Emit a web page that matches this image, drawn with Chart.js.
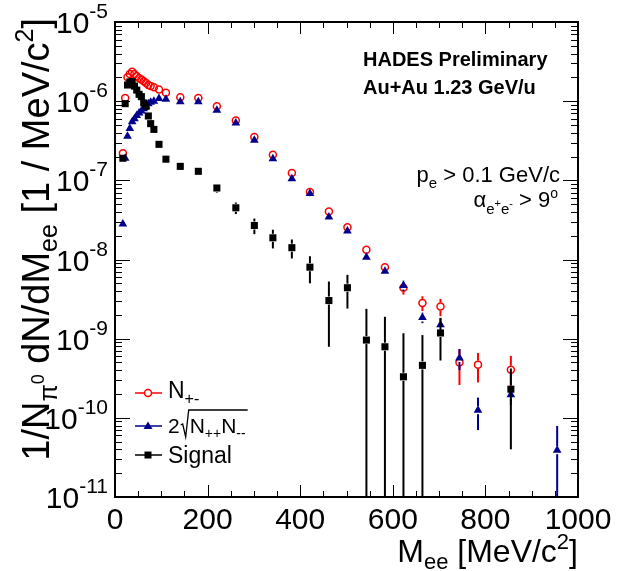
<!DOCTYPE html>
<html>
<head>
<meta charset="utf-8">
<script src="https://cdn.jsdelivr.net/npm/chart.js@4.4.0/dist/chart.umd.min.js"></script>
<style>
  html, body { margin: 0; padding: 0; background: #fff; }
</style>
</head>
<body>
<canvas id="mee-chart" width="625" height="571"></canvas>
<script>
// invariant mass bin centres [MeV/c^2]
const massBins = [17, 22, 27, 32, 37, 42, 47, 52, 57, 62, 67, 72, 77, 84, 95, 110, 141,
  180, 220, 261, 301, 341, 382, 421, 462, 502, 543, 583, 623, 664, 703, 744, 784, 855, 955];

// N+- (unlike-sign pairs)
const nPlusMinus = [2.2e-7, 1.1e-6, 2.0e-6, 2.2e-6, 2.35e-6, 2.2e-6, 2.07e-6, 1.95e-6, 1.88e-6,
  1.78e-6, 1.7e-6, 1.6e-6, 1.55e-6, 1.5e-6, 1.4e-6, 1.28e-6, 1.12e-6,
  1.1e-6, 8.65e-7, 5.7e-7, 3.53e-7, 2.1e-7, 1.24e-7, 7.1e-8, 4.05e-8, 2.56e-8, 1.33e-8,
  8.0e-9, 4.4e-9, 2.83e-9, 2.55e-9, 5.0e-10, 4.7e-10, 4.06e-10, null];
const nPlusMinusErr = [0, 0, 0, 0, 0, 0, 0, 0, 0, 0, 0, 0, 0, 0, 0, 0, 0,
  0, 0, 0, 0, 0, 0, 0, 1.0e-9, 0.8e-9, 0.6e-9, 0.5e-9, 0.8e-9, 0.6e-9, 0.63e-9,
  2.4e-10, 1.9e-10, 2.0e-10, null];

// 2 sqrt(N++ N--) (like-sign background)
const likeSign = [2.8e-8, 1.9e-7, 3.6e-7, 4.5e-7, 5.5e-7, 6.0e-7, 6.6e-7, 7.1e-7, 7.5e-7,
  8.0e-7, 8.6e-7, 9.3e-7, 9.7e-7, 1.0e-6, 1.08e-6, 1.06e-6, 9.8e-7,
  9.8e-7, 7.7e-7, 5.3e-7, 3.2e-7, 1.88e-7, 1.05e-7, 6.8e-8, 3.44e-8, 2.29e-8, 1.07e-8,
  7.1e-9, 4.7e-9, 1.85e-9, 1.5e-9, 5.7e-10, 1.25e-10, 1.95e-10, 3.9e-11];
const likeSignErr = [0, 0, 0, 0, 0, 0, 0, 0, 0, 0, 0, 0, 0, 0, 0, 0, 0,
  0, 0, 0, 0, 0, 0, 0, 0, 0, 0, 0, 0.7e-9, 0.28e-9, 0.3e-9,
  1.7e-10, 0.55e-10, 0.5e-10, 4.0e-11];

// signal = N+- minus background
const signal = [1.9e-7, 9.3e-7, 1.6e-6, 1.75e-6, 1.76e-6, 1.55e-6, 1.38e-6, 1.22e-6, 1.14e-6,
  9.5e-7, 8.6e-7, 6.5e-7, 5.2e-7, 4.4e-7, 2.85e-7, 1.85e-7, 1.5e-7,
  1.3e-7, 8.0e-8, 4.5e-8, 2.69e-8, 1.88e-8, 1.41e-8, 8.0e-9, 3.03e-9, 4.4e-9, 9.6e-10,
  7.9e-10, 3.3e-10, 4.6e-10, 1.18e-9, null, null, 2.3e-10, null];
const signalErr = [0, 0, 0, 0, 0, 0, 0, 0, 0, 0, 0, 0, 0, 0, 0, 0, 0,
  0, 1.0e-8, 7.5e-9, 6e-9, 5e-9, 3.8e-9, 3e-9, 2.24e-9, 2.0e-9, 1.42e-9,
  1.1e-9, 0.84e-9, 0.65e-9, 0.65e-9, null, null, 1.9e-10, null];

const xTicks = [0, 200, 400, 600, 800, 1000];
const yExponents = [-5, -6, -7, -8, -9, -10, -11];

const FONT = '"Liberation Sans", Arial, Helvetica, sans-serif';
const RED = '#ff0000';
const BLUE = '#00008f';

function toPoints(values) {
    return massBins.map((m, i) => ({ x: m, y: values[i] }));
}

// draws a list of [text, size, dy, bold] pieces one after another
function drawRich(ctx, parts, x, y, align) {
    const widths = parts.map(p => {
        ctx.font = (p[3] ? 'bold ' : '') + p[1] + 'px ' + FONT;
        return ctx.measureText(p[0]).width;
    });
    const total = widths.reduce((a, b) => a + b, 0);
    let cx = align === 'right' ? x - total : x;
    ctx.textAlign = 'left';
    ctx.textBaseline = 'alphabetic';
    parts.forEach((p, i) => {
        ctx.font = (p[3] ? 'bold ' : '') + p[1] + 'px ' + FONT;
        ctx.fillText(p[0], cx, y + (p[2] || 0));
        cx += widths[i];
    });
    return total;
}

function line(ctx, x1, y1, x2, y2) {
    ctx.beginPath();
    ctx.moveTo(x1, y1);
    ctx.lineTo(x2, y2);
    ctx.stroke();
}

const errorBars = {
    id: 'errorBars',
    afterDatasetDraw(chart, args) {
        const ds = chart.data.datasets[args.index];
        if (!ds.errors) return;
        const ctx = chart.ctx;
        const xs = chart.scales.x, ys = chart.scales.y;
        const area = chart.chartArea;
        ctx.save();
        ctx.beginPath();
        ctx.rect(area.left, area.top, area.right - area.left, area.bottom - area.top);
        ctx.clip();
        ctx.strokeStyle = ds.borderColor;
        ctx.lineWidth = 2;
        ds.data.forEach((pt, i) => {
            const e = ds.errors[i];
            if (pt.y == null || !e) return;
            const px = xs.getPixelForValue(pt.x);
            const py = ys.getPixelForValue(pt.y);
            const top = ys.getPixelForValue(pt.y + e);
            const low = pt.y - e;
            const bottom = low > 1e-11 ? ys.getPixelForValue(low) : area.bottom;
            const gap = 4;
            if (top < py - gap) line(ctx, px, top, px, py - gap);
            if (bottom > py + gap) line(ctx, px, py + gap, px, bottom);
        });
        ctx.restore();
    }
};

const frameAndText = {
    id: 'frameAndText',
    afterDraw(chart) {
        const ctx = chart.ctx;
        const xs = chart.scales.x, ys = chart.scales.y;
        const a = chart.chartArea;
        ctx.save();
        ctx.fillStyle = '#000';
        ctx.strokeStyle = '#000';

        // ticks pointing inward on all four sides
        ctx.lineWidth = 1;
        for (let v = 0; v <= 1000; v += 50) {
            const px = Math.round(xs.getPixelForValue(v)) + 0.5;
            const len = v % 200 === 0 ? 12 : 6;
            line(ctx, px, a.bottom, px, a.bottom - len);
            line(ctx, px, a.top, px, a.top + len);
        }
        for (let e = -11; e < -5; e++) {
            for (let m = 1; m <= 9; m++) {
                const py = Math.round(ys.getPixelForValue(m * Math.pow(10, e))) + 0.5;
                const len = m === 1 ? 15 : 7;
                line(ctx, a.left, py, a.left + len, py);
                line(ctx, a.right, py, a.right - len, py);
            }
        }
        ctx.lineWidth = 2;
        ctx.strokeRect(a.left, a.top, a.right - a.left, a.bottom - a.top);

        // x tick labels
        ctx.font = '30px ' + FONT;
        ctx.textAlign = 'center';
        ctx.textBaseline = 'alphabetic';
        xTicks.forEach(v => ctx.fillText(String(v), xs.getPixelForValue(v), 529));

        // y tick labels 10^n
        yExponents.forEach(n => {
            const py = ys.getPixelForValue(Math.pow(10, n));
            drawRich(ctx, [['10', 30, 0], [String(n), 21, -15]], 108, py + 11, 'right');
        });

        // x title
        drawRich(ctx, [['M', 32, 0], ['ee', 22, 7], [' [MeV/c', 32, 0], ['2', 22, -13], [']', 32, 0]],
            578, 562, 'right');

        // y title, rotated
        const yParts = [['1/N', 38, 0], ['\u03c0', 25, 8], ['0', 18, -5], [' dN/dM', 38, 0],
            ['ee', 25, 8], [' [1 / MeV/c', 38, 0], ['2', 25, -16], [']', 38, 0]];
        let w = 0;
        yParts.forEach(p => { ctx.font = p[1] + 'px ' + FONT; w += ctx.measureText(p[0]).width; });
        ctx.save();
        ctx.translate(49, 18 + w);
        ctx.rotate(-Math.PI / 2);
        drawRich(ctx, yParts, 0, 0, 'left');
        ctx.restore();

        // labels in the top right
        ctx.font = 'bold 20px ' + FONT;
        ctx.textAlign = 'left';
        ctx.fillText('HADES Preliminary', 363, 66);
        ctx.fillText('Au+Au 1.23 GeV/u', 363, 94);
        drawRich(ctx, [['p', 22, 0], ['e', 15, 6], [' > 0.1 GeV/c', 22, 0]], 560, 182, 'right');
        drawRich(ctx, [['\u03b1', 22, 0], ['e', 15, 7], ['+', 11, 0], ['e', 15, 7], ['-', 11, 0],
            [' > 9', 22, 0], ['o', 14, -9]], 558, 207, 'right');

        // legend
        const lx1 = 135, lx2 = 162, mx = 148, tx = 168;
        ctx.lineWidth = 1.5;
        // row 1: N+-
        ctx.strokeStyle = RED;
        line(ctx, lx1, 393, lx2, 393);
        ctx.fillStyle = '#fff';
        ctx.beginPath(); ctx.arc(mx, 393, 3.5, 0, Math.PI * 2); ctx.fill(); ctx.stroke();
        ctx.fillStyle = '#000';
        drawRich(ctx, [['N', 23, 0], ['+-', 16, 6]], tx, 398, 'left');
        // row 2: 2 sqrt(N++ N--)
        ctx.strokeStyle = BLUE;
        line(ctx, lx1, 426, lx2, 426);
        ctx.fillStyle = BLUE;
        ctx.beginPath();
        ctx.moveTo(mx, 421.5); ctx.lineTo(mx + 4.5, 429); ctx.lineTo(mx - 4.5, 429); ctx.closePath();
        ctx.fill();
        ctx.fillStyle = '#000';
        ctx.strokeStyle = '#000';
        ctx.font = '21px ' + FONT;
        ctx.fillText('2', tx, 433);
        const r0 = tx + ctx.measureText('2').width + 1;
        const wRoot = drawRich(ctx, [['N', 21, 0], ['++', 14, 5], ['N', 21, 0], ['--', 14, 5]], r0 + 9, 433, 'left');
        ctx.lineWidth = 1.3;
        ctx.beginPath();
        ctx.moveTo(r0, 425); ctx.lineTo(r0 + 2, 424); ctx.lineTo(r0 + 5, 437);
        ctx.lineTo(r0 + 8, 410); ctx.lineTo(r0 + 11 + wRoot, 410);
        ctx.stroke();
        // row 3: Signal
        ctx.lineWidth = 1.5;
        line(ctx, lx1, 455, lx2, 455);
        ctx.fillRect(mx - 3.5, 451.5, 7, 7);
        drawRich(ctx, [['Signal', 23, 0]], tx, 463, 'left');

        ctx.restore();
    }
};

new Chart(document.getElementById('mee-chart').getContext('2d'), {
    type: 'scatter',
    data: {
        datasets: [{
            label: 'Signal',
            data: toPoints(signal),
            errors: signalErr,
            pointStyle: 'rect',
            pointRadius: 5,
            backgroundColor: '#000',
            borderColor: '#000',
            borderWidth: 0,
            order: 0
        }, {
            label: '2sqrt(N++N--)',
            data: toPoints(likeSign),
            errors: likeSignErr,
            pointStyle: 'triangle',
            pointRadius: 5,
            backgroundColor: BLUE,
            borderColor: BLUE,
            borderWidth: 0,
            order: 1
        }, {
            label: 'N+-',
            data: toPoints(nPlusMinus),
            errors: nPlusMinusErr,
            pointStyle: 'circle',
            pointRadius: 3.5,
            backgroundColor: 'rgba(255,255,255,0)',
            borderColor: RED,
            borderWidth: 1.5,
            order: 2
        }]
    },
    options: {
        responsive: false,
        animation: false,
        layout: { padding: { left: 115, right: 47, top: 22, bottom: 74 } },
        scales: {
            x: { type: 'linear', min: 0, max: 1000, display: false },
            y: { type: 'logarithmic', min: 1e-11, max: 1e-5, display: false }
        },
        plugins: {
            legend: { display: false },
            tooltip: { enabled: false }
        }
    },
    plugins: [errorBars, frameAndText]
});
</script>
</body>
</html>
